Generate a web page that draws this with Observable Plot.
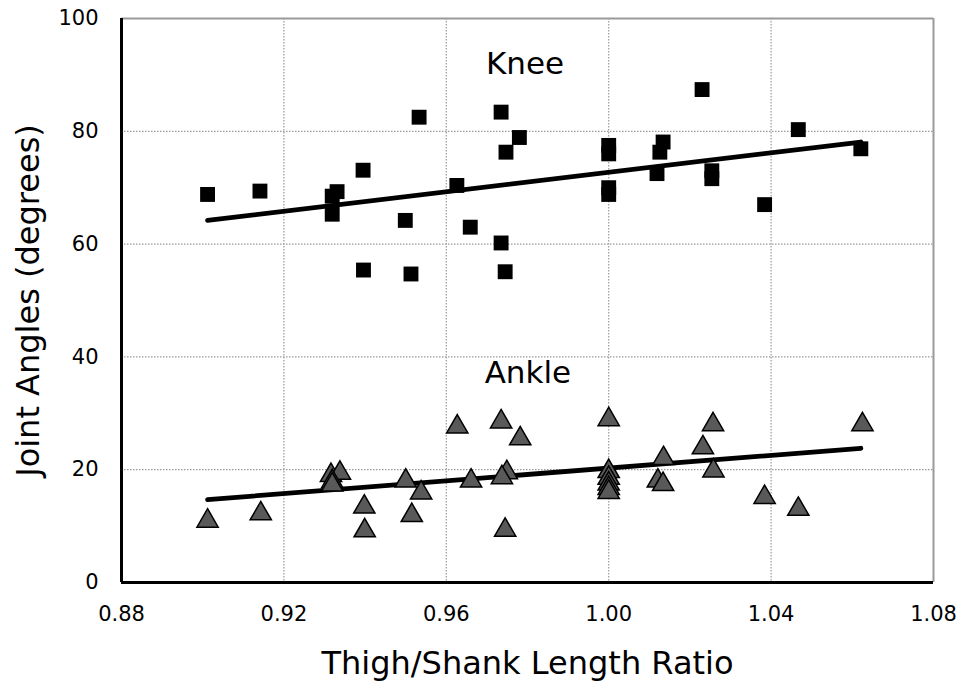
<!DOCTYPE html>
<html>
<head>
<meta charset="utf-8">
<script src="https://cdn.jsdelivr.net/npm/d3@7"></script>
<script src="https://cdn.jsdelivr.net/npm/@observablehq/plot@0.6"></script>
<style>
  html, body { margin: 0; padding: 0; background: #fff; }
  #chart svg { display: block; }
</style>
</head>
<body>
<div id="chart"></div>
<script>
// Knee joint angles
const kneeRatio = [0.9012, 0.9141, 0.9331, 0.9319, 0.9319, 0.9395, 0.9533, 0.9396, 0.9513, 0.9499,
                   0.9626, 0.9659, 0.9735, 0.9780, 0.9747, 0.9735, 0.9745, 1.0230, 1.0000, 1.0000,
                   1.0000, 1.0000, 1.0134, 1.0126, 1.0119, 1.0254, 1.0254, 1.0384, 1.0467, 1.0621];
const kneeAngle = [68.8, 69.4, 69.3, 68.5, 65.3, 73.1, 82.5, 55.4, 54.7, 64.2,
                   70.4, 63.0, 83.4, 78.9, 76.3, 60.2, 55.1, 87.4, 77.5, 76.0,
                   70.0, 68.8, 78.1, 76.3, 72.5, 73.0, 71.6, 67.0, 80.3, 76.9];
// Ankle joint angles
const ankleRatio = [0.9012, 0.9143, 0.9316, 0.9338, 0.9319, 0.9319, 0.9398, 0.9399, 0.9500, 0.9538,
                    0.9515, 0.9627, 0.9661, 0.9735, 0.9782, 0.9749, 0.9737, 0.9745, 1.0000, 1.0000,
                    1.0000, 1.0000, 1.0000, 1.0000, 1.0135, 1.0121, 1.0134, 1.0257, 1.0232, 1.0258,
                    1.0384, 1.0467, 1.0625];
const ankleAngle = [10.9, 12.2, 19.0, 19.4, 17.9, 17.3, 13.4, 9.2, 18.0, 15.9,
                    11.9, 27.6, 18.0, 28.5, 25.5, 19.5, 18.6, 9.3, 28.9, 19.7,
                    18.5, 17.5, 16.7, 16.0, 22.0, 18.0, 17.4, 28.0, 23.9, 19.8,
                    15.1, 13.0, 28.0];
// Trend lines (end points)
const kneeTrendX = [0.9012, 1.0621];
const kneeTrendY = [64.2, 78.1];
const ankleTrendX = [0.9012, 1.0621];
const ankleTrendY = [14.7, 23.8];
// Axes
const xTicks = [0.88, 0.92, 0.96, 1.00, 1.04, 1.08];
const yTicks = [0, 20, 40, 60, 80, 100];
const xGrid = [0.92, 0.96, 1.00, 1.04];
const yGrid = [20, 40, 60, 80];
const xTitle = "Thigh/Shank Length Ratio";
const yTitle = "Joint Angles (degrees)";
// Series labels
const seriesLabels = ["Knee", "Ankle"];
const labelX = [0.9794, 0.9801];
const labelY = [92.0, 37.2];

const knee = kneeRatio.map((x, i) => ({x, y: kneeAngle[i]}));
const ankle = ankleRatio.map((x, i) => ({x, y: ankleAngle[i]}));
const kneeTrend = kneeTrendX.map((x, i) => ({x, y: kneeTrendY[i]}));
const ankleTrend = ankleTrendX.map((x, i) => ({x, y: ankleTrendY[i]}));
const labels = seriesLabels.map((t, i) => ({t, x: labelX[i], y: labelY[i]}));

const font = "'DejaVu Sans', Verdana, sans-serif";

const chart = Plot.plot({
  width: 961,
  height: 681,
  marginLeft: 121,
  marginRight: 28,
  marginTop: 18,
  marginBottom: 99,
  style: {fontFamily: font, background: "#fff", color: "#000"},
  x: {domain: [0.88, 1.08]},
  y: {domain: [0, 100]},
  marks: [
    Plot.ruleX(xGrid, {stroke: "#9a9a9a", strokeWidth: 1.2, strokeDasharray: "1.5,1.5"}),
    Plot.ruleY(yGrid, {stroke: "#9a9a9a", strokeWidth: 1.2, strokeDasharray: "1.5,1.5"}),
    Plot.ruleY([100], {stroke: "#9a9a9a", strokeWidth: 2}),
    Plot.ruleX([1.08], {stroke: "#9a9a9a", strokeWidth: 2}),
    Plot.ruleX([0.88], {stroke: "#000", strokeWidth: 3}),
    Plot.ruleY([0], {stroke: "#000", strokeWidth: 3}),
    Plot.axisX({ticks: xTicks, tickSize: 0, tickPadding: 24, fontSize: 21, tickFormat: d => d.toFixed(2), label: null}),
    Plot.axisY({ticks: yTicks, tickSize: 0, tickPadding: 23, fontSize: 21, label: null}),
    Plot.text([xTitle], {frameAnchor: "bottom", dy: 81, lineAnchor: "middle", fontSize: 32, fill: "#000"}),
    Plot.axisY({ticks: [], tickSize: 0, label: yTitle, labelAnchor: "center", labelArrow: "none", labelOffset: 105, fontSize: 32}),
    Plot.line(kneeTrend, {x: "x", y: "y", stroke: "#000", strokeWidth: 4.8}),
    Plot.line(ankleTrend, {x: "x", y: "y", stroke: "#000", strokeWidth: 4.8}),
    Plot.dot(knee, {x: "x", y: "y", symbol: "square", r: 8.4, fill: "#000", stroke: "none"}),
    Plot.dot(ankle, {x: "x", y: "y", symbol: "triangle", r: 7.9, fill: "#595959", stroke: "#000", strokeWidth: 1.5}),
    Plot.text(labels, {x: "x", y: "y", text: "t", fontSize: 31, fill: "#000", lineAnchor: "middle"})
  ]
});
document.getElementById("chart").appendChild(chart);
</script>
</body>
</html>
